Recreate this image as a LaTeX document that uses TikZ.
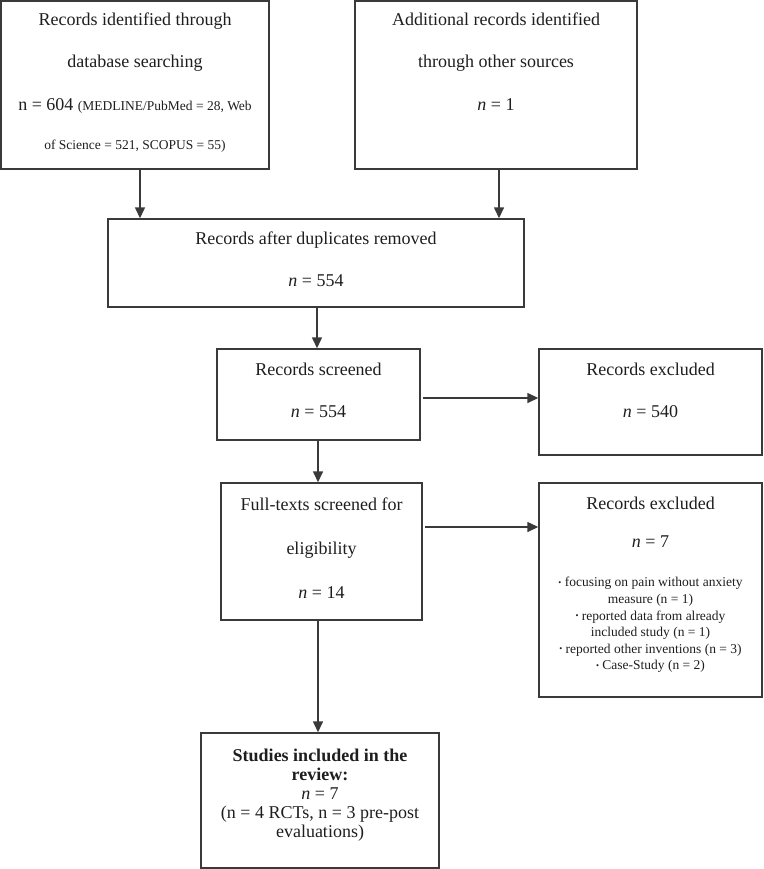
\documentclass[tikz,border=0pt]{standalone}
\usepackage{fontspec}
\setmainfont{Liberation Serif}
\usetikzlibrary{arrows.meta}
\definecolor{linegray}{HTML}{3A3A3A}
\definecolor{txt}{HTML}{1E1E1E}
\tikzset{
  box/.style={draw=linegray, line width=1.4pt, rectangle, inner sep=0pt},
  lbl/.style={text=txt, font=\fontsize{18}{19}\selectfont, inner sep=0pt, text height=1.5ex, text depth=0.25ex},
  sml/.style={text=txt, font=\fontsize{13.5}{16.6}\selectfont, inner sep=0pt, align=center},
  bld/.style={text=txt, font=\fontsize{18}{19}\selectfont, inner sep=0pt, align=center},
  arr/.style={draw=linegray, line width=1.4pt, -{Triangle[length=11pt,width=10pt]}}
}
\newcommand{\bul}{\raisebox{0.12em}{\fontsize{8.5}{8.5}\selectfont •}\ }
\begin{document}
\begin{tikzpicture}[x=1pt,y=-1pt]
\useasboundingbox (0,0) rectangle (763,869);
% boxes
\node[box, minimum width=268pt, minimum height=168pt] (b1) at (135,85) {};
\node[box, minimum width=282pt, minimum height=168pt] (b2) at (496,85) {};
\node[box, minimum width=416pt, minimum height=88pt] (b3) at (316,263) {};
\node[box, minimum width=203pt, minimum height=91pt] (b4) at (318.5,394.5) {};
\node[box, minimum width=223pt, minimum height=106pt] (b5) at (650.5,402) {};
\node[box, minimum width=201pt, minimum height=137pt] (b6) at (321.5,551.5) {};
\node[box, minimum width=223pt, minimum height=214pt] (b7) at (650.5,590) {};
\node[box, minimum width=238pt, minimum height=135pt] (b8) at (320,800.5) {};
% texts
\node[lbl] (t11) at (135,23) {Records identified through};
\node[lbl] (t12) at (135,65) {database searching};
\node[lbl] (t13) at (135,108) {n = 604 {\fontsize{13.5}{16}\selectfont(MEDLINE/PubMed = 28, Web}};
\node[lbl, font=\fontsize{13.5}{16}\selectfont] (t14) at (135,147) {of Science = 521, SCOPUS = 55)};
\node[lbl] (t21) at (496,23) {Additional records identified};
\node[lbl] (t22) at (496,65) {through other sources};
\node[lbl] (t23) at (496,108) {\textit{n} = 1};
\node[lbl] (t31) at (316,242) {Records after duplicates removed};
\node[lbl] (t32) at (316,284) {\textit{n} = 554};
\node[lbl] (t41) at (318.5,373) {Records screened};
\node[lbl] (t42) at (318.5,415) {\textit{n} = 554};
\node[lbl] (t51) at (650.5,373) {Records excluded};
\node[lbl] (t52) at (650.5,415) {\textit{n} = 540};
\node[lbl] (t61) at (321.5,508) {Full-texts screened for};
\node[lbl] (t62) at (321.5,552) {eligibility};
\node[lbl] (t63) at (321.5,596) {\textit{n} = 14};
\node[lbl] (t71) at (650.5,507) {Records excluded};
\node[lbl] (t72) at (650.5,545) {\textit{n} = 7};
\node[sml] (t73) at (650.5,625) {\bul focusing on pain without anxiety\\ measure (n = 1)\\ \bul reported data from already\\ included study (n = 1)\\ \bul reported other inventions (n = 3)\\ \bul Case-Study (n = 2)};
\node[bld] (t81) at (320,795) {\textbf{Studies included in the}\\ \textbf{review:}\\ \textit{n} = 7\\ (n = 4 RCTs, n = 3 pre-post\\ evaluations)};
% connectors
\coordinate (xa) at (140,0);
\coordinate (xb) at (499,0);
\coordinate (xc) at (317,0);
\coordinate (xd) at (318,0);
\coordinate (ya) at (0,398);
\coordinate (yb) at (0,527);
\draw[arr] (b1.south -| xa) -- (b3.north -| xa);
\draw[arr] (b2.south -| xb) -- (b3.north -| xb);
\draw[arr] (b3.south -| xc) -- (b4.north -| xc);
\draw[arr] ([xshift=2pt]b4.east |- ya) -- (b5.west |- ya);
\draw[arr] (b4.south -| xd) -- (b6.north -| xd);
\draw[arr] ([xshift=2pt]b6.east |- yb) -- (b7.west |- yb);
\draw[arr] (b6.south -| xd) -- (b8.north -| xd);
\end{tikzpicture}
\end{document}
